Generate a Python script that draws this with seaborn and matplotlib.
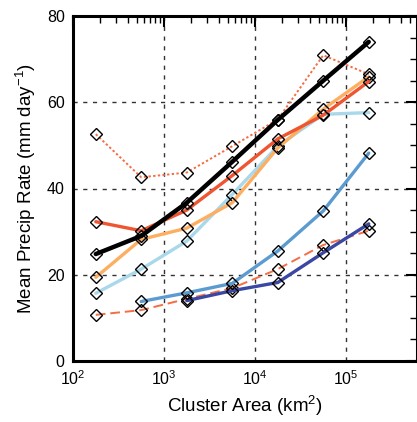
import numpy as np
import pandas as pd
import matplotlib
matplotlib.use("Agg")
import matplotlib.pyplot as plt
import seaborn as sns
from matplotlib.ticker import LogLocator, MultipleLocator, FixedLocator, NullFormatter

sns.set_theme(style="white")
plt.rcParams['font.family'] = ['Liberation Sans', 'DejaVu Sans']
plt.rcParams['mathtext.fontset'] = 'custom'
plt.rcParams['mathtext.rm'] = 'Liberation Sans'
plt.rcParams['mathtext.it'] = 'Liberation Sans'
plt.rcParams['text.color'] = 'black'
plt.rcParams['axes.labelcolor'] = 'black'
plt.rcParams['xtick.color'] = 'black'
plt.rcParams['ytick.color'] = 'black'

# Cluster area bins (km^2)
area = [178, 562, 1778, 5623, 17783, 56234, 177828]

black_s = [24.8, 29.0, 36.7, 46.2, 55.9, 65.0, 74.0]
red_dotted = [52.6, 42.6, 43.7, 49.8, 56.0, 70.9, 66.5]
red_solid = [32.3, 30.2, 35.0, 43.0, 51.5, 57.0, 64.8]
orange_s = [19.4, 28.2, 30.8, 36.7, 49.4, 58.4, 65.9]
lightblue_s = [15.7, 21.3, 27.8, 38.6, 49.8, 57.2, 57.6]
medblue_s = [np.nan, 13.8, 15.8, 18.0, 25.5, 34.8, 48.2]
darkblue_s = [np.nan, np.nan, 14.0, 16.3, 18.2, 25.1, 31.8]
red_dashed = [10.7, 11.8, 14.4, 16.9, 21.3, 26.9, 30.2]

xticks = [1e2, 1e3, 1e4, 1e5]
xticklabels = ['10$^{2}$', '10$^{3}$', '10$^{4}$', '10$^{5}$']
yticks = [0, 20, 40, 60, 80]

series = [
    (red_dotted, '#f46d43', (0, (1.2, 1.2)), 1.4),
    (red_dashed, '#f46d43', (0, (5, 2.5)), 1.4),
    (darkblue_s, '#3a47a3', '-', 2.4),
    (medblue_s, '#5b9bd0', '-', 2.4),
    (lightblue_s, '#a9d8ea', '-', 2.4),
    (orange_s, '#fdae61', '-', 2.4),
    (red_solid, '#ef5530', '-', 2.4),
    (black_s, '#000000', '-', 3.2),
]

fig = plt.figure(figsize=(4.17, 4.22), dpi=100)
ax = fig.add_axes([73/417, 1-361/422, (416.5-73)/417, (361-16)/422])

for vals, col, ls, lw in series:
    df = pd.DataFrame({'area': area, 'val': vals}).dropna()
    sns.lineplot(data=df, x='area', y='val', ax=ax, color=col, linestyle=ls,
                 linewidth=lw, marker='D', markersize=6.5, markerfacecolor='none',
                 markeredgecolor='black', markeredgewidth=1.0, legend=False)

ax.set_xscale('log')
ax.set_xlim(100, 10**5.775)
ax.set_ylim(0, 80)

ax.xaxis.set_major_locator(FixedLocator(xticks))
ax.set_xticklabels(xticklabels)
ax.xaxis.set_minor_locator(LogLocator(base=10, subs=np.arange(2, 10), numticks=20))
ax.xaxis.set_minor_formatter(NullFormatter())
ax.yaxis.set_major_locator(FixedLocator(yticks))
ax.yaxis.set_minor_locator(MultipleLocator(5))

for x in [1e3, 1e4, 1e5]:
    ax.axvline(x, color='#333333', lw=1.0, ls=(0, (3, 4)), zorder=0)
for y in [20, 40, 60]:
    ax.axhline(y, color='#333333', lw=1.0, ls=(0, (3, 4)), zorder=0)

ax.tick_params(which='both', direction='in', top=True, right=True, colors='black',
               labelsize=11.5, pad=6)
ax.tick_params(which='major', length=8, width=1.5)
ax.tick_params(which='minor', length=5, width=1.0)
for s in ax.spines.values():
    s.set_linewidth(2.2)
    s.set_color('black')

ax.set_xlabel('Cluster Area (km$^{2}$)', fontsize=13.5, labelpad=4, color='black')
ax.set_ylabel('Mean Precip Rate (mm day$^{-1}$)', fontsize=13.5, labelpad=6, color='black')

fig.savefig('out.png', dpi=100)
